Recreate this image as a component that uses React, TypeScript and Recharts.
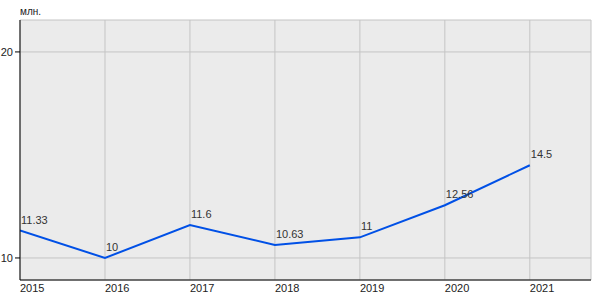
import { LineChart, Line, XAxis, YAxis, CartesianGrid, LabelList } from "recharts";

const years = [2015, 2016, 2017, 2018, 2019, 2020, 2021];
const values = [11.33, 10, 11.6, 10.63, 11, 12.56, 14.5];
const yTicks = [10, 20];

const data = years.map((year, i) => ({ year, value: values[i] }));

const XTick = (props: any) => {
  const { x, y, payload } = props;
  return (
    <text x={x} y={y} dy={4} fill="#222" fontSize={11} textAnchor="start">
      {payload.value}
    </text>
  );
};

const PointLabel = (props: any) => {
  const { x, y, value } = props;
  if (x === undefined || y === undefined) return null;
  return (
    <text x={x + 1} y={y - 7} fill="#333" fontSize={11} textAnchor="start">
      {value}
    </text>
  );
};

export default function App() {
  return (
    <div style={{ position: "absolute", left: 0, top: 0, width: 600, height: 300, background: "#fff", fontFamily: "'Liberation Sans', Arial, sans-serif" }}>
      <div style={{ position: "absolute", left: 20, top: 6, fontSize: 10, color: "#222" }}>млн.</div>
      <LineChart width={600} height={300} data={data} margin={{ top: 20, right: 9, left: 0, bottom: 0 }}>
        <CartesianGrid fill="#ebebeb" stroke="#c4c4c4" strokeWidth={1} />
        <XAxis
          dataKey="year"
          type="number"
          domain={[2015, 2021.72]}
          ticks={years}
          allowDataOverflow
          tickLine={false}
          axisLine={{ stroke: "#000" }}
          tick={<XTick />}
          height={20}
        />
        <YAxis
          type="number"
          domain={[8.93, 21.55]}
          ticks={yTicks}
          allowDataOverflow
          width={20}
          tickSize={5}
          tickMargin={2}
          tickLine={{ stroke: "#000" }}
          axisLine={{ stroke: "#000" }}
          tick={{ fill: "#222", fontSize: 11 }}
        />
        <Line
          type="linear"
          dataKey="value"
          stroke="#0050e6"
          strokeWidth={2}
          dot={false}
          isAnimationActive={false}
        >
          <LabelList dataKey="value" content={<PointLabel />} />
        </Line>
      </LineChart>
    </div>
  );
}
